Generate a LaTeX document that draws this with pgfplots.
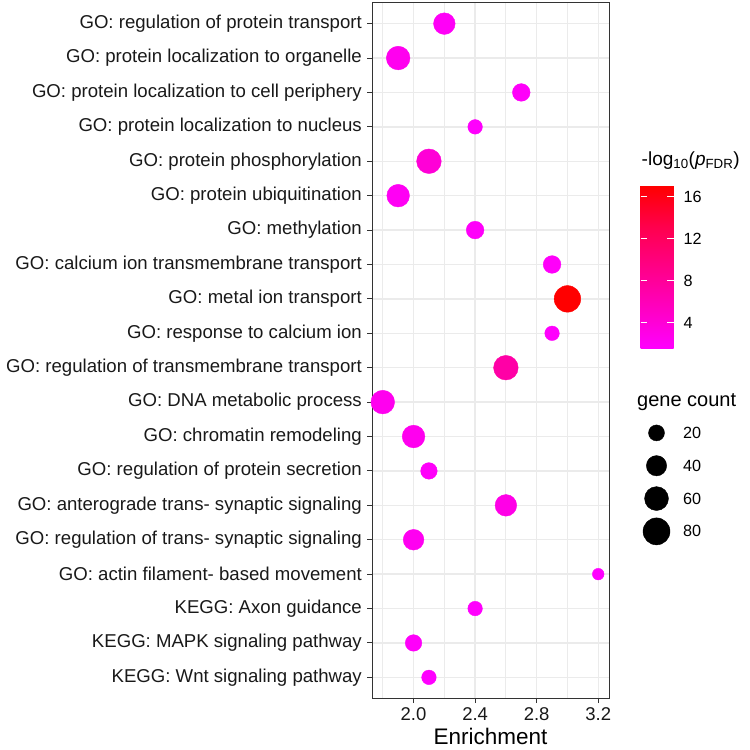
\documentclass[border=0pt]{standalone}
\usepackage{fontspec}
\setmainfont{Liberation Sans}
\usepackage{pgfplots}
\pgfplotsset{compat=1.18}
\usepackage{pgfplotstable}

\pgfplotstableread{
y enr count logp
1 2.2 49 2.0
2 1.9 61 2.5
3 2.7 29 1.8
4 2.4 16 1.6
5 2.1 67 4.0
6 1.9 55 2.2
7 2.4 29 1.8
8 2.9 29 1.8
9 3.0 80 17.0
10 2.9 16 1.6
11 2.6 67 7.2
12 1.8 61 2.5
13 2.0 55 2.5
14 2.1 24 1.8
15 2.6 49 3.0
16 2.0 44 2.4
17 3.2 6 1.5
18 2.4 16 1.6
19 2.0 24 1.8
20 2.1 16 1.5
}\datatable

\pgfplotstableread{
x count
0 20
0 40
0 60
0 80
}\sizetable

\pgfplotsset{
  /pgf/number format/assume math mode=true,
  colormap={ggmag}{rgb255=(255,0,255) rgb255=(255,0,193) rgb255=(255,0,135) rgb255=(255,0,77) rgb255=(255,0,0)},
}
\definecolor{gridgray}{gray}{0.92}
\definecolor{axgray}{gray}{0.2}
\definecolor{txtgray}{gray}{0.1}

\begin{document}
\begin{tikzpicture}[x=1bp,y=1bp]
\useasboundingbox (0,0) rectangle (750,750);
\begin{axis}[
  at={(372bp,52bp)}, anchor=south west,
  scale only axis, width=237bp, height=695bp,
  xmin=1.73, xmax=3.27, ymin=0.4, ymax=20.6, y dir=reverse,
  xtick={2.0,2.4,2.8,3.2}, minor xtick={1.8,2.2,2.6,3.0},
  xticklabel style={/pgf/number format/fixed, /pgf/number format/fixed zerofill, /pgf/number format/precision=1},
  ytick={1,...,20},
  yticklabels={
    GO: regulation of protein transport,
    GO: protein localization to organelle,
    GO: protein localization to cell periphery,
    GO: protein localization to nucleus,
    GO: protein phosphorylation,
    GO: protein ubiquitination,
    GO: methylation,
    GO: calcium ion transmembrane transport,
    GO: metal ion transport,
    GO: response to calcium ion,
    GO: regulation of transmembrane transport,
    GO: DNA metabolic process,
    GO: chromatin remodeling,
    GO: regulation of protein secretion,
    GO: anterograde trans- synaptic signaling,
    GO: regulation of trans- synaptic signaling,
    GO: actin filament- based movement,
    KEGG: Axon guidance,
    KEGG: MAPK signaling pathway,
    KEGG: Wnt signaling pathway},
  grid=both,
  major grid style={draw=gridgray, line width=1.3bp},
  minor grid style={draw=gridgray, line width=0.8bp},
  axis line style={draw=axgray, line width=1bp},
  tick style={draw=axgray, line width=1bp},
  tick align=outside, major tick length=5bp, minor tick length=0pt,
  xtick pos=bottom, ytick pos=left,
  yticklabel style={font=\fontsize{18.6bp}{20bp}\selectfont, text=txtgray, inner sep=0pt, xshift=-5bp},
  xticklabel style={font=\fontsize{18.5bp}{20bp}\selectfont, text=txtgray, inner sep=0pt, yshift=-4bp},
  xlabel={Enrichment},
  xlabel style={font=\fontsize{22.5bp}{24bp}\selectfont, at={(axis description cs:0.5,0)}, anchor=base, yshift=-46bp},
  point meta min=1.5, point meta max=17,
  colormap name=ggmag,
  colorbar,
  colorbar/width=33bp,
  colorbar style={
    at={(632bp,564bp)}, anchor=north west,
    scale only axis, width=33bp, height=163bp,
    axis on top,
    ytick={4,8,12,16},
    yticklabel pos=right,
    ytick pos=both,
    tick align=inside, major tick length=6.7bp,
    ytick style={draw=white, line width=0.8bp},
    axis line style={draw=none},
    yticklabel style={font=\fontsize{16.2bp}{18bp}\selectfont, text=black, inner sep=0pt, xshift=10bp},
    title={-log\textsubscript{10}(\textit{p}\textsubscript{FDR})},
    title style={font=\fontsize{19bp}{21bp}\selectfont, at={(0,1)}, anchor=base west, yshift=15bp, xshift=1bp, inner sep=0pt},
  },
]
\addplot[scatter, only marks, mark=*,
  point meta=\thisrow{logp},
  scatter/use mapped color={draw=mapped color, fill=mapped color},
  visualization depends on={0.5*sqrt(98+7.88*\thisrow{count})-0.2 \as \rad},
  scatter/@pre marker code/.append style={/tikz/mark size=\rad bp}]
  table[x=enr, y=y] {\datatable};
\end{axis}

\begin{axis}[
  at={(640bp,202.2bp)}, anchor=south west,
  scale only axis, width=33bp, height=131.3bp,
  xmin=-1, xmax=1, ymin=10, ymax=90, y dir=reverse,
  xtick=\empty, ytick={20,40,60,80},
  yticklabel pos=right,
  axis line style={draw=none}, tick style={draw=none},
  yticklabel style={font=\fontsize{16.2bp}{18bp}\selectfont, text=black, inner sep=0pt, xshift=10bp},
  title={gene count},
  title style={font=\fontsize{20bp}{22bp}\selectfont, at={(0,1)}, anchor=base west, yshift=4.5bp, xshift=-3bp, inner sep=0pt},
  clip=false,
]
\addplot[only marks, mark=*, black,
  visualization depends on={0.5*sqrt(98+7.88*\thisrow{count}) \as \rad},
  scatter, scatter/use mapped color={draw=black, fill=black},
  point meta=\thisrow{count},
  scatter/@pre marker code/.append style={/tikz/mark size=\rad bp}]
  table[x=x, y=count] {\sizetable};
\end{axis}
\end{tikzpicture}
\end{document}
